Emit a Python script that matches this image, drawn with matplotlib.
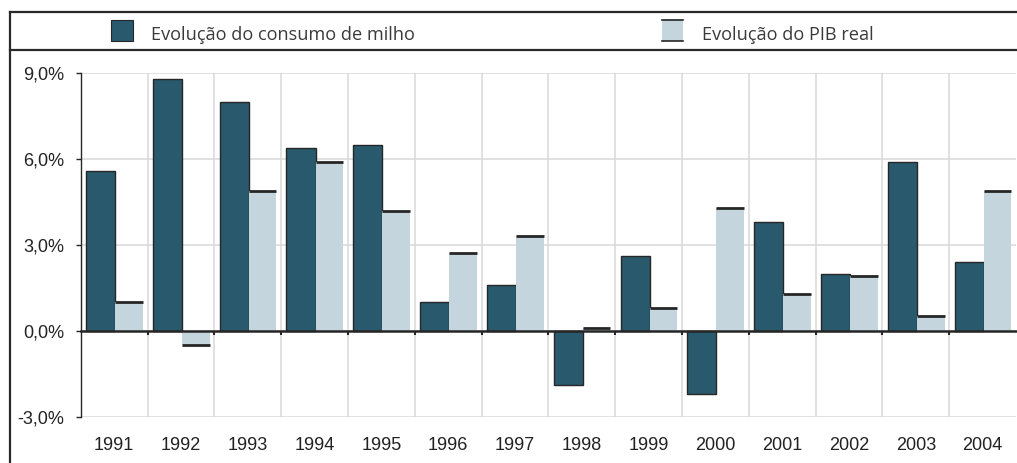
import numpy as np
import matplotlib.pyplot as plt
from matplotlib.patches import Rectangle
from matplotlib.lines import Line2D

years = ["1991", "1992", "1993", "1994", "1995", "1996", "1997",
         "1998", "1999", "2000", "2001", "2002", "2003", "2004"]
consumo_milho = [5.6, 8.8, 8.0, 6.4, 6.5, 1.0, 1.6, -1.9, 2.6, -2.2, 3.8, 2.0, 5.9, 2.4]
pib_real = [1.0, -0.5, 4.9, 5.9, 4.2, 2.7, 3.3, 0.1, 0.8, 4.3, 1.3, 1.9, 0.5, 4.9]
yticks = [-3, 0, 3, 6, 9]
ytick_labels = ["-3,0%", "0,0%", "3,0%", "6,0%", "9,0%"]
legend_labels = ["Evolução do consumo de milho", "Evolução do PIB real"]

DARK = "#28596c"
LIGHT = "#c5d5dd"
EDGE = "#262626"
GRID = "#d9d9d9"

W, H = 1017, 463
fig = plt.figure(figsize=(W / 100, H / 100), dpi=100)
ax = fig.add_axes([80.7 / W, 1 - 416.5 / H, (1016 - 80.7) / W, (416.5 - 73.3) / H])

n = len(years)
x = np.arange(n)

# bars
ax.bar(x + 0.08, consumo_milho, width=0.435, align="edge", color=DARK,
       edgecolor=EDGE, linewidth=1.0, zorder=3)
ax.bar(x + 0.515, pib_real, width=0.415, align="edge", color=LIGHT,
       edgecolor="none", zorder=3)
ax.hlines(pib_real, x + 0.515, x + 0.93, color=EDGE, linewidth=2, zorder=4)

ax.set_xlim(0, n)
ax.set_ylim(-3, 9)

# grid
ax.set_xticks(np.arange(1, n))
ax.set_xticklabels([])
ax.set_yticks(yticks)
ax.set_yticklabels(ytick_labels, fontfamily="Liberation Sans", fontsize=13, color="#222222")
ax.grid(True, color=GRID, linewidth=1.1, zorder=0)
ax.set_axisbelow(True)

for s in ("top", "right"):
    ax.spines[s].set_visible(False)
ax.spines["left"].set_color(EDGE)
ax.spines["left"].set_linewidth(1.0)
ax.spines["bottom"].set_position(("data", 0))
ax.spines["bottom"].set_color(EDGE)
ax.spines["bottom"].set_linewidth(1.8)
ax.spines["bottom"].set_zorder(5)
ax.tick_params(axis="y", direction="out", length=3.6, width=1.0, color=EDGE, pad=8)
ax.tick_params(axis="x", direction="out", length=3, width=1.5, color=EDGE)

# year labels below the plot
sec = ax.secondary_xaxis(0.0)
sec.set_xticks(x + 0.5)
sec.set_xticklabels(years, fontfamily="Liberation Sans", fontsize=13, color="#222222")
sec.tick_params(length=0, pad=15)
sec.spines["bottom"].set_visible(False)

# frame and legend
lc = "#2a2a2a"
fig.add_artist(Line2D([10 / W, 1], [1 - 11.7 / H] * 2, color=lc, lw=1.6))
fig.add_artist(Line2D([10 / W] * 2, [0, 1 - 11.7 / H], color=lc, lw=1.6))
fig.add_artist(Line2D([10 / W, 1], [1 - 50 / H] * 2, color=lc, lw=1.6))

fig.add_artist(Rectangle((110.7 / W, 1 - 40.7 / H), 22.6 / W, 20.7 / H,
                         facecolor=DARK, edgecolor=EDGE, lw=0.8))
fig.add_artist(Rectangle((662 / W, 1 - 41.3 / H), 21 / W, 22 / H,
                         facecolor=LIGHT, edgecolor="none"))
fig.add_artist(Line2D([662 / W, 683 / W], [1 - 19.8 / H] * 2, color=EDGE, lw=1.2))
fig.add_artist(Line2D([662 / W, 683 / W], [1 - 40.8 / H] * 2, color=EDGE, lw=1.2))

fig.text(150.7 / W, 1 - 40.5 / H, legend_labels[0], fontfamily="Open Sans",
         fontsize=13.1, color="#3a3a3a", va="baseline")
fig.text(701.7 / W, 1 - 40.5 / H, legend_labels[1], fontfamily="Open Sans",
         fontsize=13.1, color="#3a3a3a", va="baseline")

fig.savefig("out.png", dpi=100)
